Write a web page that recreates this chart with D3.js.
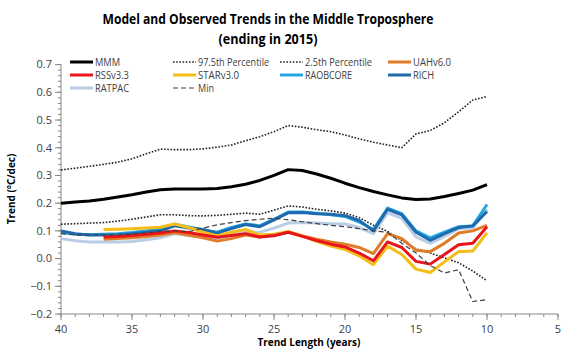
<!DOCTYPE html>
<html><head><meta charset="utf-8">
<script src="https://cdn.jsdelivr.net/npm/d3@7"></script>
<style>body{margin:0;background:#fff}svg{display:block;font-family:"Open Sans","Liberation Sans",Arial,sans-serif}</style>
</head><body><svg id="c" width="572" height="353"></svg>
<script>
const years = [40,39,38,37,36,35,34,33,32,31,30,29,28,27,26,25,24,23,22,21,20,19,18,17,16,15,14,13,12,11,10];
const MMM      = [0.200,0.204,0.208,0.214,0.222,0.230,0.240,0.248,0.251,0.251,0.251,0.253,0.259,0.268,0.282,0.300,0.321,0.318,0.305,0.290,0.272,0.256,0.242,0.230,0.219,0.213,0.215,0.224,0.235,0.247,0.267];
const P975     = [0.320,0.326,0.333,0.340,0.348,0.360,0.378,0.395,0.393,0.393,0.396,0.402,0.410,0.425,0.440,0.458,0.480,0.474,0.465,0.458,0.446,0.432,0.420,0.410,0.400,0.450,0.462,0.490,0.530,0.572,0.585];
const P25      = [0.124,0.126,0.128,0.130,0.135,0.142,0.150,0.158,0.158,0.155,0.154,0.156,0.160,0.164,0.160,0.175,0.190,0.186,0.178,0.172,0.164,0.148,0.120,0.098,0.065,0.035,0.020,0.003,-0.015,-0.045,-0.080];
const UAH      = [null,null,null,0.070,0.072,0.075,0.080,0.085,0.093,0.085,0.075,0.063,0.072,0.085,0.078,0.085,0.095,0.082,0.070,0.060,0.052,0.040,0.018,0.090,0.072,0.030,0.025,0.055,0.092,0.100,0.120];
const RSS      = [null,null,null,0.078,0.080,0.083,0.088,0.092,0.100,0.094,0.085,0.077,0.083,0.090,0.078,0.082,0.095,0.080,0.065,0.052,0.042,0.020,-0.008,0.060,0.040,-0.010,-0.020,0.015,0.050,0.055,0.115];
const STAR     = [null,null,null,0.105,0.106,0.108,0.110,0.113,0.125,0.112,0.095,0.082,0.095,0.105,0.085,0.088,0.098,0.082,0.062,0.045,0.033,0.010,-0.022,0.045,0.015,-0.038,-0.050,-0.012,0.025,0.027,0.093];
const RAOBCORE = [0.095,0.088,0.086,0.088,0.090,0.094,0.100,0.106,0.124,0.114,0.103,0.095,0.112,0.125,0.118,0.142,0.168,0.168,0.164,0.158,0.152,0.132,0.105,0.182,0.162,0.100,0.075,0.095,0.115,0.118,0.195];
const RICH     = [0.100,0.090,0.085,0.085,0.086,0.090,0.095,0.100,0.118,0.110,0.105,0.092,0.108,0.123,0.115,0.140,0.165,0.166,0.162,0.160,0.155,0.138,0.100,0.178,0.158,0.095,0.066,0.090,0.112,0.118,0.170];
const RATPAC   = [0.072,0.064,0.060,0.060,0.060,0.062,0.068,0.075,0.090,0.082,0.078,0.073,0.085,0.096,0.095,0.110,0.128,0.130,0.128,0.126,0.125,0.112,0.090,0.165,0.145,0.078,0.055,0.080,0.108,0.110,0.178];
const MIN      = [0.090,0.086,0.085,0.085,0.085,0.088,0.093,0.098,0.100,0.097,0.110,0.122,0.130,0.137,0.142,0.146,0.140,0.133,0.126,0.120,0.115,0.108,0.100,0.095,0.055,0.020,-0.025,-0.052,-0.040,-0.155,-0.148];
const xTicks = [40,35,30,25,20,15,10,5];
const yTicks = [-0.2,-0.1,0.0,0.1,0.2,0.3,0.4,0.5,0.6,0.7];

const series = [
  {name:"MMM", v:MMM, color:"#000000", w:3, dash:null, tw:25},
  {name:"97.5th Percentile", v:P975, color:"#222", w:1.6, dash:"1.6,1.6", tw:71},
  {name:"2.5th Percentile", v:P25, color:"#222", w:1.6, dash:"1.6,1.6", tw:67},
  {name:"UAHv6.0", v:UAH, color:"#E07B28", w:3, dash:null, tw:38},
  {name:"RSSv3.3", v:RSS, color:"#E8161B", w:3, dash:null, tw:34},
  {name:"STARv3.0", v:STAR, color:"#F6BD16", w:3, dash:null, tw:41},
  {name:"RAOBCORE", v:RAOBCORE, color:"#22A7E0", w:3, dash:null, tw:47},
  {name:"RICH", v:RICH, color:"#1F6AAE", w:3, dash:null, tw:21},
  {name:"RATPAC", v:RATPAC, color:"#B9CDE5", w:3, dash:null, tw:34},
  {name:"Min", v:MIN, color:"#404040", w:1.2, dash:"5,3", tw:16}
];
const drawOrder = ["97.5th Percentile","2.5th Percentile","MMM","RATPAC","RAOBCORE","RICH","STARv3.0","UAHv6.0","RSSv3.3","Min"];

const svg = d3.select("#c");
const x = d3.scaleLinear().domain([40,5]).range([61,558]);
const y = d3.scaleLinear().domain([-0.2,0.7]).range([314,64.6]);
const txt = "#404040", axc = "#868686";

// title
svg.append("text").attr("x",268).attr("y",24).attr("text-anchor","middle")
  .attr("font-size",15).attr("font-weight","bold").attr("fill","#000")
  .attr("textLength",331).attr("lengthAdjust","spacingAndGlyphs")
  .text("Model and Observed Trends in the Middle Troposphere");
svg.append("text").attr("x",268).attr("y",44).attr("text-anchor","middle")
  .attr("font-size",15).attr("font-weight","bold").attr("fill","#000")
  .attr("textLength",99).attr("lengthAdjust","spacingAndGlyphs")
  .text("(ending in 2015)");

// y axis
const gy = svg.append("g").attr("transform","translate(61,0)");
gy.append("line").attr("y1",y(0.7)).attr("y2",y(-0.2)).attr("stroke",axc);
d3.range(-0.2,0.7001,0.02).forEach(v=>{
  gy.append("line").attr("x1",-3).attr("x2",0).attr("y1",y(v)).attr("y2",y(v)).attr("stroke",axc);
});
yTicks.forEach(v=>{
  gy.append("line").attr("x1",-6).attr("x2",0).attr("y1",y(v)).attr("y2",y(v)).attr("stroke",axc);
  gy.append("text").attr("x",-9).attr("y",y(v)).attr("dy","0.35em").attr("text-anchor","end")
    .attr("font-size",11).attr("fill",txt).text(d3.format(".1f")(v));
});
// x axis
const gx = svg.append("g").attr("transform","translate(0,314)");
gx.append("line").attr("x1",61).attr("x2",558).attr("stroke",axc);
d3.range(5,41,1).forEach(v=>{
  gx.append("line").attr("x1",x(v)).attr("x2",x(v)).attr("y1",0).attr("y2",3).attr("stroke",axc);
});
xTicks.forEach(v=>{
  gx.append("line").attr("x1",x(v)).attr("x2",x(v)).attr("y1",0).attr("y2",6).attr("stroke",axc);
  gx.append("text").attr("x",x(v)).attr("y",19).attr("text-anchor","middle")
    .attr("font-size",11).attr("fill",txt).text(v);
});
// axis titles
svg.append("text").attr("x",309).attr("y",346).attr("text-anchor","middle")
  .attr("font-size",10).attr("font-weight","bold").attr("fill","#000").text("Trend Length (years)");
svg.append("text").attr("transform","translate(15,189) rotate(-90)").attr("text-anchor","middle")
  .attr("font-size",10).attr("font-weight","bold").attr("fill","#000").text("Trend (°C/dec)");

// lines
const line = d3.line().defined(d=>d[1]!==null).x(d=>x(d[0])).y(d=>y(d[1]));
drawOrder.forEach(n=>{
  const s = series.find(q=>q.name===n);
  svg.append("path").datum(years.map((yr,i)=>[yr,s.v[i]]))
    .attr("d",line).attr("fill","none").attr("stroke",s.color)
    .attr("stroke-width",s.w).attr("stroke-dasharray",s.dash)
    .attr("stroke-linejoin","round");
});

// legend
const colX = [70,173,280,388];
const rowY = [62,75,88];
series.forEach((s,i)=>{
  const cx = colX[i%4], cy = rowY[Math.floor(i/4)];
  svg.append("line").attr("x1",cx).attr("x2",cx+23).attr("y1",cy).attr("y2",cy)
    .attr("stroke",s.color).attr("stroke-width",s.w).attr("stroke-dasharray",s.dash);
  svg.append("text").attr("x",cx+25).attr("y",cy).attr("dy","0.35em")
    .attr("font-size",10).attr("fill",txt)
    .attr("textLength",s.tw).attr("lengthAdjust","spacingAndGlyphs").text(s.name);
});
</script></body></html>
